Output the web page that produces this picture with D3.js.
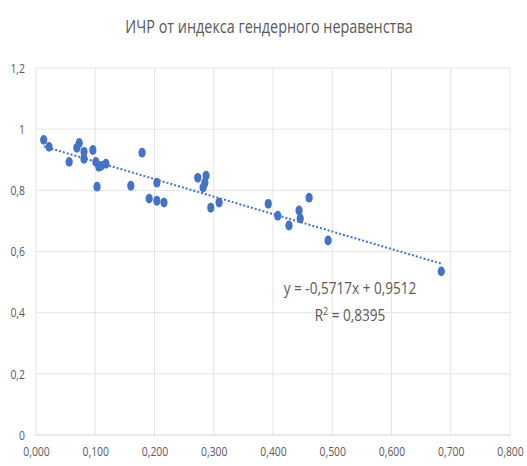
<!DOCTYPE html>
<html>
<head>
<meta charset="utf-8">
<script src="https://cdn.jsdelivr.net/npm/d3@7"></script>
<style>
  body { margin: 0; background: #fff; }
  text { font-family: "Open Sans", sans-serif; fill: #595959; }
</style>
</head>
<body>
<div id="chart"></div>
<script>
// индекс гендерного неравенства (x) и ИЧР (y)
const gii = [0.013, 0.022, 0.056, 0.069, 0.073, 0.081, 0.081, 0.096, 0.101, 0.106, 0.110, 0.118,
  0.103, 0.160, 0.179, 0.204, 0.191, 0.204, 0.216, 0.273, 0.287, 0.282, 0.285, 0.295, 0.309,
  0.392, 0.408, 0.427, 0.444, 0.446, 0.461, 0.493, 0.684];
const hdi = [0.965, 0.942, 0.893, 0.939, 0.955, 0.926, 0.903, 0.932, 0.893, 0.877, 0.880, 0.887,
  0.812, 0.815, 0.923, 0.825, 0.773, 0.766, 0.760, 0.841, 0.848, 0.809, 0.825, 0.743, 0.760,
  0.756, 0.717, 0.685, 0.734, 0.708, 0.776, 0.636, 0.535];
const xTicks = [0, 0.1, 0.2, 0.3, 0.4, 0.5, 0.6, 0.7, 0.8];
const yTicks = [0, 0.2, 0.4, 0.6, 0.8, 1, 1.2];
const slope = -0.5717, intercept = 0.9512, r2 = "0,8395";

const width = 527, height = 466;
const margin = { top: 68, right: 17, bottom: 31, left: 36 };
const squeeze = 0.8; // текст в оригинале сжат по горизонтали

const locale = d3.formatLocale({ decimal: ",", thousands: " ", grouping: [3], currency: ["", ""], minus: "-" });
const fx = locale.format(".3f");
const fy = d => d === 0 || d === 1 ? String(d) : locale.format(".1f")(d);

const svg = d3.select("#chart").append("svg")
  .attr("width", width)
  .attr("height", height);

const x = d3.scaleLinear().domain([0, 0.8]).range([margin.left, width - margin.right]);
const y = d3.scaleLinear().domain([0, 1.2]).range([height - margin.bottom, margin.top]);

function label(px, py, size) {
  return svg.append("g")
    .attr("transform", "translate(" + px + "," + py + ") scale(" + squeeze + ",1)")
    .append("text")
    .attr("text-anchor", "middle")
    .style("font-size", size + "px");
}

// title
label(269, 33, 18).text("ИЧР от индекса гендерного неравенства");

// grid
svg.append("g")
  .selectAll("line")
  .data(yTicks)
  .enter().append("line")
  .attr("x1", x(0)).attr("x2", x(0.8))
  .attr("y1", d => y(d)).attr("y2", d => y(d))
  .attr("stroke", d => d === 0 ? "#d0d0d0" : "#e3e3e3")
  .attr("stroke-width", 1);

svg.append("g")
  .selectAll("line")
  .data(xTicks)
  .enter().append("line")
  .attr("x1", d => x(d)).attr("x2", d => x(d))
  .attr("y1", y(1.2)).attr("y2", y(0))
  .attr("stroke", "#e3e3e3")
  .attr("stroke-width", 1);

// axes (labels only)
const xAxis = svg.append("g")
  .attr("transform", "translate(0," + (y(0) + 9) + ")")
  .call(d3.axisBottom(x).tickValues(xTicks).tickFormat(fx).tickSize(0));
xAxis.select(".domain").remove();
xAxis.selectAll("text")
  .style("font-size", "13px")
  .attr("fill", "#595959")
  .attr("transform", "scale(" + squeeze + ",1)");

const yAxis = svg.append("g")
  .attr("transform", "translate(" + (x(0) - 11) + ",0)")
  .call(d3.axisLeft(y).tickValues(yTicks).tickFormat(fy).tickSize(0));
yAxis.select(".domain").remove();
yAxis.selectAll("text")
  .style("font-size", "13px")
  .attr("fill", "#595959")
  .attr("x", 0)
  .attr("transform", "scale(" + squeeze + ",1)");

// trendline
const xMin = d3.min(gii), xMax = d3.max(gii);
svg.append("line")
  .attr("x1", x(xMin)).attr("y1", y(slope * xMin + intercept))
  .attr("x2", x(xMax)).attr("y2", y(slope * xMax + intercept))
  .attr("stroke", "#4472c4")
  .attr("stroke-width", 2)
  .attr("stroke-dasharray", "2,2");

// points
svg.append("g")
  .selectAll("ellipse")
  .data(gii)
  .enter().append("ellipse")
  .attr("cx", d => x(d))
  .attr("cy", (d, i) => y(hdi[i]))
  .attr("rx", 3.6)
  .attr("ry", 4.9)
  .attr("fill", "#4472c4");

// equation
label(350, 294, 17).text("y = " + locale.format(".4f")(slope) + "x + " + locale.format(".4f")(intercept));

const r = label(350, 321, 17);
r.append("tspan").text("R");
r.append("tspan").attr("dy", -6).style("font-size", "11px").text("2");
r.append("tspan").attr("dy", 6).text(" = " + r2);
</script>
</body>
</html>
